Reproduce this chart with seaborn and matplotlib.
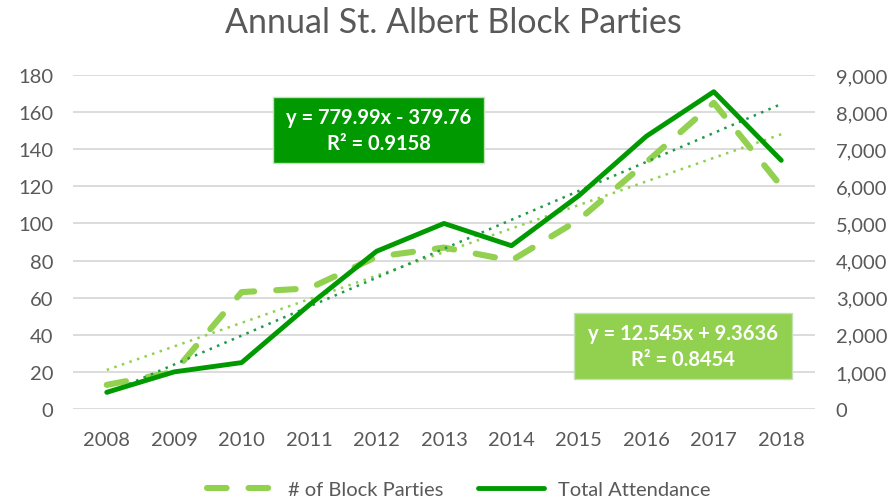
import matplotlib
matplotlib.use("Agg")
import matplotlib.pyplot as plt
from matplotlib.patches import Rectangle
from matplotlib.lines import Line2D
import seaborn as sns
import pandas as pd
import numpy as np

# data
years = [2008, 2009, 2010, 2011, 2012, 2013, 2014, 2015, 2016, 2017, 2018]
block_parties = [13, 20, 63, 65, 82, 87, 80, 102, 133, 165, 120]
attendance = [450, 1000, 1250, 2800, 4250, 5000, 4400, 5750, 7350, 8550, 6700]
left_ticks = [0, 20, 40, 60, 80, 100, 120, 140, 160, 180]
right_ticks = [0, 1000, 2000, 3000, 4000, 5000, 6000, 7000, 8000, 9000]
eq_att = "y = 779.99x - 379.76\nR² = 0.9158"
eq_bp = "y = 12.545x + 9.3636\nR² = 0.8454"

LIGHT = "#92D050"
DARK = "#009A00"
GRID = "#D9D9D9"
TXT = "#595959"
DASH = [3.2, 3.6]

sns.set_theme(style="white")
plt.rcParams['font.family'] = ['Lato', 'DejaVu Sans']

df = pd.DataFrame({"Year": years, "Parties": block_parties, "Attendance": attendance})

W, H = 894, 502
fig = plt.figure(figsize=(W / 100, H / 100), dpi=100)
ax = fig.add_axes([73 / W, 1 - 410 / H, (815 - 73) / W, (410 - 76) / H])
ax2 = ax.twinx()

# gridlines
for t in left_ticks:
    ax.axhline(t, color=GRID, lw=1.3, zorder=0)

# block parties (left axis)
sns.lineplot(data=df, x="Year", y="Parties", ax=ax, color=LIGHT, lw=4.4, zorder=3)
ax.lines[-1].set_dashes(DASH)
ax.lines[-1].set_dash_capstyle("round")
sns.regplot(data=df, x="Year", y="Parties", ax=ax, scatter=False, ci=None,
            truncate=True, line_kws=dict(color=LIGHT, lw=1.8, ls=(0, (1, 2.2))))

# attendance (right axis)
sns.lineplot(data=df, x="Year", y="Attendance", ax=ax2, color=DARK, lw=3.5, zorder=4)
sns.regplot(data=df, x="Year", y="Attendance", ax=ax2, scatter=False, ci=None,
            truncate=True, line_kws=dict(color="#1F9A4A", lw=1.8, ls=(0, (1, 2.2))))

ax.set_xlim(2007.5, 2018.5)
ax.set_ylim(0, 180)
ax2.set_ylim(0, 9000)
ax.set_xticks(years)
ax.set_xticklabels([str(y) for y in years])
ax.set_yticks(left_ticks)
ax2.set_yticks(right_ticks)
ax2.set_yticklabels([f"{t:,}" for t in right_ticks])
for a in (ax, ax2):
    a.set_xlabel("")
    a.set_ylabel("")
    for s in a.spines.values():
        s.set_visible(False)
    a.tick_params(length=0, labelsize=14.5, labelcolor=TXT)
ax.tick_params(axis="x", pad=16)
ax.tick_params(axis="y", pad=14)
ax2.tick_params(axis="y", pad=15)

fig.text(453 / W, 1 - 23 / H, "Annual St. Albert Block Parties", ha="center",
         va="center", fontsize=24.5, color=TXT)

# trendline label boxes
def label_box(x0, y0, x1, y1, face, text):
    fig.add_artist(Rectangle((x0 / W, 1 - y1 / H), (x1 - x0) / W, (y1 - y0) / H,
                             transform=fig.transFigure, facecolor=face,
                             edgecolor="#C5E0B4", lw=1, zorder=5))
    fig.text((x0 + x1) / 2 / W, 1 - (y0 + y1) / 2 / H, text, ha="center", va="center",
             color="white", fontsize=14.5, fontweight="bold", linespacing=1.4, zorder=6)

label_box(273, 98, 484, 164, DARK, eq_att)
label_box(574, 314, 792, 380, LIGHT, eq_bp)

handles = [Line2D([], [], color=LIGHT, lw=4.4, dashes=DASH, dash_capstyle="round"),
           Line2D([], [], color=DARK, lw=3.5)]
fig.legend(handles, ["# of Block Parties", "Total Attendance"], loc="center",
           bbox_to_anchor=(459 / W, 1 - 490 / H), ncol=2, frameon=False, fontsize=14.5,
           labelcolor=TXT, handlelength=3.3, handletextpad=0.7, columnspacing=1.7)

fig.savefig("out.png", dpi=100)
